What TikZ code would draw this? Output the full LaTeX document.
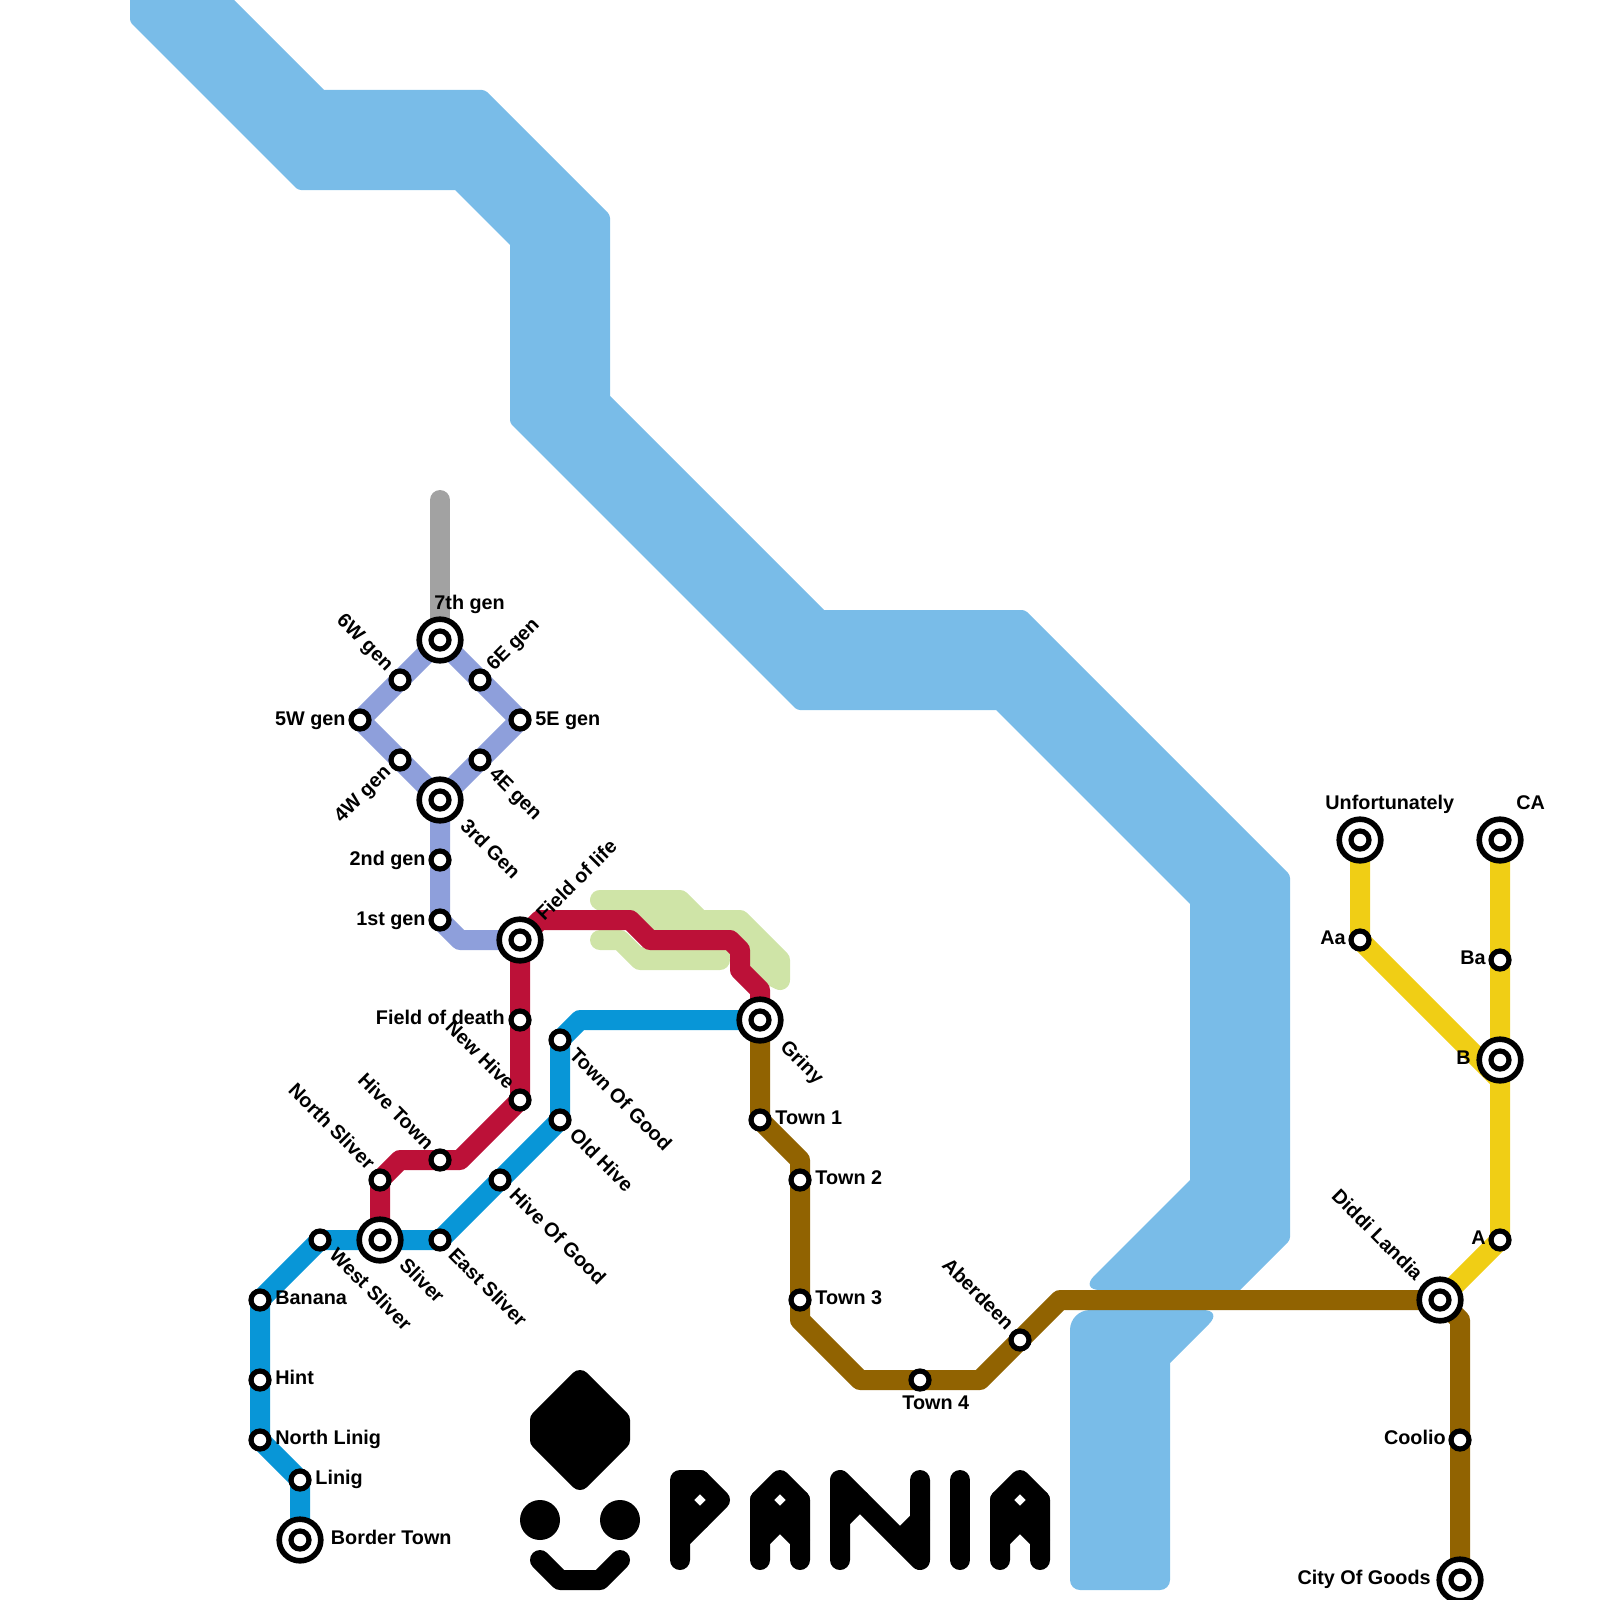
\documentclass[tikz,border=0pt]{standalone}
\usepackage{fontspec}
\setmainfont{Liberation Sans}
\usepackage{xcolor}
\usetikzlibrary{positioning,calc,backgrounds}
\definecolor{RiverBlue}{HTML}{79BCE8}
\definecolor{LineGen}{HTML}{8E9FDB}
\definecolor{LineRed}{HTML}{BC1138}
\definecolor{LineCyan}{HTML}{0896D7}
\definecolor{LineBrown}{HTML}{916301}
\definecolor{LineYellow}{HTML}{F0CE15}
\definecolor{LineGray}{HTML}{A2A2A2}
\definecolor{LineGreen}{HTML}{CFE4A7}
\tikzset{
  station/.style={circle,draw=black,fill=white,line width=2.6pt,minimum size=9pt,inner sep=0pt},
  hub/.style={circle,draw=black,fill=white,line width=2.8pt,minimum size=20.8pt,inner sep=0pt,
    path picture={\draw[line width=2.6pt,fill=white] (path picture bounding box.center) circle (4.5pt);}},
  metro/.style={line width=10pt,line join=round},
  planned/.style={draw=LineGreen,fill=LineGreen,line width=10pt,line join=round,line cap=round},
  logopart/.style={draw=black,line width=10pt,line join=round,line cap=round},
  stname/.style={inner sep=0pt,font=\bfseries\fontsize{9.9}{11}\selectfont},
  nameright/.style={stname,anchor=base west},
  nameleft/.style={stname,anchor=base east},
  namedown/.style={stname,anchor=base west,rotate=-45},
  nameup/.style={stname,anchor=base west,rotate=45},
  nameupleft/.style={stname,anchor=base east,rotate=-45},
  namedownleft/.style={stname,anchor=base east,rotate=45}
}
\begin{document}
\begin{tikzpicture}[x=0.5pt,y=-0.5pt]
  \useasboundingbox (0,0) rectangle (1600,1600);
  % stations
  \node[hub] (gen7) at (440,640) {};
  \node[station] (gen6w) at (400,680) {};
  \node[station] (gen5w) at (360,720) {};
  \node[station] (gen4w) at (400,760) {};
  \node[station] (gen6e) at (480,680) {};
  \node[station] (gen5e) at (520,720) {};
  \node[station] (gen4e) at (480,760) {};
  \node[hub] (gen3) at (440,800) {};
  \node[station] (gen2) at (440,860) {};
  \node[station] (gen1) at (440,920) {};
  \node[hub] (life) at (520,940) {};
  \node[station] (death) at (520,1020) {};
  \node[station] (newhive) at (520,1100) {};
  \node[station] (hivetown) at (440,1160) {};
  \node[station] (northsliver) at (380,1180) {};
  \node[hub] (sliver) at (380,1240) {};
  \node[station] (westsliver) at (320,1240) {};
  \node[station] (eastsliver) at (440,1240) {};
  \node[station] (banana) at (260,1300) {};
  \node[station] (hint) at (260,1380) {};
  \node[station] (northlinig) at (260,1440) {};
  \node[station] (linig) at (300,1480) {};
  \node[hub] (border) at (300,1540) {};
  \node[station] (hivegood) at (500,1180) {};
  \node[station] (oldhive) at (560,1120) {};
  \node[station] (towngood) at (560,1040) {};
  \node[hub] (griny) at (760,1020) {};
  \node[station] (town1) at (760,1120) {};
  \node[station] (town2) at (800,1180) {};
  \node[station] (town3) at (800,1300) {};
  \node[station] (town4) at (920,1380) {};
  \node[station] (aberdeen) at (1020,1340) {};
  \node[hub] (diddi) at (1440,1300) {};
  \node[station] (coolio) at (1460,1440) {};
  \node[hub] (goods) at (1460,1580) {};
  \node[station] (sta) at (1500,1240) {};
  \node[hub] (stb) at (1500,1060) {};
  \node[station] (stba) at (1500,960) {};
  \node[hub] (stca) at (1500,840) {};
  \node[station] (staa) at (1360,940) {};
  \node[hub] (unfort) at (1360,840) {};
  \coordinate (grayend) at (440,500);
  \coordinate (upperstart) at (600,900);
  \coordinate (upperend) at (780,980);
  \coordinate (lowerstart) at (600,940);
  \coordinate (lowerend) at (720,960);
  % river and lines go under the stations
  \begin{scope}[on background layer]
    \fill[RiverBlue] (130,0) [rounded corners=1.5pt] -- (130,22) -- (298,190) [sharp corners] -- (455,190) -- (510,245)
      [rounded corners=1.5pt] -- (510,423) -- (797,710) [sharp corners] -- (996,710) -- (1190,904) -- (1190,1180)
      [rounded corners=10pt] -- (1080,1290) [sharp corners] -- (1240,1290) [rounded corners=1.5pt] -- (1290,1240) -- (1290,875) -- (1025,610)
      [sharp corners] -- (824,610) -- (610,396) [rounded corners=1.5pt] -- (610,215) -- (485,90) [sharp corners] -- (324,90) -- (234,0) -- cycle;
    \fill[RiverBlue,rounded corners=5pt] (1070,1310) -- (1070,1590) -- (1170,1590) [sharp corners] -- (1170,1363) [rounded corners=10pt] -- (1223,1310) -- cycle;
    \filldraw[planned] (upperstart) -- (680,900) -- (700,920) -- (740,920) -- (780,960) -- (upperend) -- (760,970) -- (740,950) -- (650,930) -- cycle;
    \draw[planned] (lowerstart) -- (620,940) -- (640,960) -- (lowerend);
    \draw[metro,LineGray,line cap=round] (grayend) -- (gen7.center);
    \draw[metro,LineGen] (gen7.center) -- (gen6w.center) -- (gen5w.center) -- (gen4w.center) -- (gen3.center) -- (gen2.center) -- (gen1.center) -- (460,940) -- (life.center);
    \draw[metro,LineGen] (gen7.center) -- (gen6e.center) -- (gen5e.center) -- (gen4e.center) -- (gen3.center);
    \draw[metro,LineCyan] (border.center) -- (linig.center) -- (northlinig.center) -- (hint.center) -- (banana.center) -- (westsliver.center) -- (sliver.center) -- (eastsliver.center) -- (hivegood.center) -- (oldhive.center) -- (towngood.center) -- (580,1020) -- (griny.center);
    \draw[metro,LineRed] (griny.center) -- (760,990) -- (740,970) -- (740,950) -- (730,940) -- (650,940) -- (630,920) -- (540,920) -- (life.center) -- (death.center) -- (newhive.center) -- (460,1160) -- (hivetown.center) -- (400,1160) -- (northsliver.center) -- (sliver.center);
    \draw[metro,LineBrown] (griny.center) -- (town1.center) -- (800,1160) -- (town2.center) -- (town3.center) -- (800,1320) -- (860,1380) -- (town4.center) -- (980,1380) -- (aberdeen.center) -- (1060,1300) -- (diddi.center) -- (1460,1320) -- (coolio.center) -- (goods.center);
    \draw[metro,LineYellow] (unfort.center) -- (staa.center) -- (1500,1080) -- (stb.center);
    \draw[metro,LineYellow] (stca.center) -- (stba.center) -- (stb.center) -- (sta.center) -- (diddi.center);
  \end{scope}
  % names
  \node[nameright] (lgen7) at ($(gen7)+(-6,-31)$) {7th gen};
  \node[nameupleft] (lgen6w) at ($(gen6w)+(-14,-8)$) {6W gen};
  \node[nameleft] (lgen5w) at ($(gen5w)+(-14,5)$) {5W gen};
  \node[namedownleft] (lgen4w) at ($(gen4w)+(-8,13)$) {4W gen};
  \node[nameup] (lgen6e) at ($(gen6e)+(14,-8)$) {6E gen};
  \node[nameright] (lgen5e) at ($(gen5e)+(15,5)$) {5E gen};
  \node[namedown] (lgen4e) at ($(gen4e)+(8,15)$) {4E gen};
  \node[namedown] (lgen3) at ($(gen3)+(19,27)$) {3rd Gen};
  \node[nameleft] (lgen2) at ($(gen2)+(-14,5)$) {2nd gen};
  \node[nameleft] (lgen1) at ($(gen1)+(-14,5)$) {1st gen};
  \node[nameup] (llife) at ($(life)+(24,-18)$) {Field of life};
  \node[nameleft] (ldeath) at ($(death)+(-15,4)$) {Field of death};
  \node[nameupleft] (lnewhive) at ($(newhive)+(-13,-9)$) {New Hive};
  \node[nameupleft] (lhivetown) at ($(hivetown)+(-14,-9)$) {Hive Town};
  \node[nameupleft] (lnorthsliver) at ($(northsliver)+(-13,-9)$) {North Sliver};
  \node[namedown] (lsliver) at ($(sliver)+(18,26)$) {Sliver};
  \node[namedown] (lwestsliver) at ($(westsliver)+(8,16)$) {West Sliver};
  \node[namedown] (leastsliver) at ($(eastsliver)+(7,16)$) {East Sliver};
  \node[nameright] (lbanana) at ($(banana)+(15,4.5)$) {Banana};
  \node[nameright] (lhint) at ($(hint)+(15,4.5)$) {Hint};
  \node[nameright] (lnorthlinig) at ($(northlinig)+(15,4.5)$) {North Linig};
  \node[nameright] (llinig) at ($(linig)+(15,4.5)$) {Linig};
  \node[nameright] (lborder) at ($(border)+(30.5,4.5)$) {Border Town};
  \node[namedown] (lhivegood) at ($(hivegood)+(8,16)$) {Hive Of Good};
  \node[namedown] (loldhive) at ($(oldhive)+(8,16)$) {Old Hive};
  \node[namedown] (ltowngood) at ($(towngood)+(8,16)$) {Town Of Good};
  \node[namedown] (lgriny) at ($(griny)+(19,28)$) {Griny};
  \node[nameright] (ltown1) at ($(town1)+(15,4.5)$) {Town 1};
  \node[nameright] (ltown2) at ($(town2)+(15,4.5)$) {Town 2};
  \node[nameright] (ltown3) at ($(town3)+(15,4.5)$) {Town 3};
  \node[nameright] (ltown4) at ($(town4)+(-18,29)$) {Town 4};
  \node[nameupleft] (laberdeen) at ($(aberdeen)+(-14,-9)$) {Aberdeen};
  \node[nameupleft] (ldiddi) at ($(diddi)+(-25,-18)$) {Diddi Landia};
  \node[nameleft] (lcoolio) at ($(coolio)+(-14,4.5)$) {Coolio};
  \node[nameleft] (lgoods) at ($(goods)+(-29,4.5)$) {City Of Goods};
  \node[nameleft] (lsta) at ($(sta)+(-14,4.5)$) {A};
  \node[nameleft] (lstb) at ($(stb)+(-29,4.5)$) {B};
  \node[nameleft] (lstba) at ($(stba)+(-14,4.5)$) {Ba};
  \node[nameleft] (lstaa) at ($(staa)+(-14,4.5)$) {Aa};
  \node[nameright] (lstca) at ($(stca)+(16,-31)$) {CA};
  \node[nameright] (lunfort) at ($(unfort)+(-35,-31)$) {Unfortunately};
  % logo
  \filldraw[logopart] (580,1380) -- (620,1420) -- (620,1440) -- (580,1480) -- (540,1440) -- (540,1420) -- cycle;
  \fill (540,1520) circle (10pt);
  \fill (620,1520) circle (10pt);
  \draw[logopart] (540,1560) -- (560,1580) -- (600,1580) -- (620,1560);
  \draw[logopart] (680,1560) -- (680,1480) -- (700,1480) -- (720,1500) -- (680,1540);
  \draw[logopart] (700,1480) -- (680,1500) -- (700,1520);
  \draw[logopart] (760,1560) -- (760,1500) -- (780,1480) -- (800,1500) -- (800,1560);
  \draw[logopart] (760,1500) -- (780,1520) -- (800,1500);
  \draw[logopart] (760,1540) -- (780,1520) -- (800,1540);
  \draw[logopart] (840,1560) -- (840,1480) -- (920,1560) -- (920,1480);
  \draw[logopart] (840,1520) -- (860,1500);
  \draw[logopart] (920,1520) -- (900,1540);
  \draw[logopart] (960,1480) -- (960,1560);
  \draw[logopart] (1000,1560) -- (1000,1500) -- (1020,1480) -- (1040,1500) -- (1040,1560);
  \draw[logopart] (1000,1500) -- (1020,1520) -- (1040,1500);
  \draw[logopart] (1000,1540) -- (1020,1520) -- (1040,1540);
\end{tikzpicture}
\end{document}
